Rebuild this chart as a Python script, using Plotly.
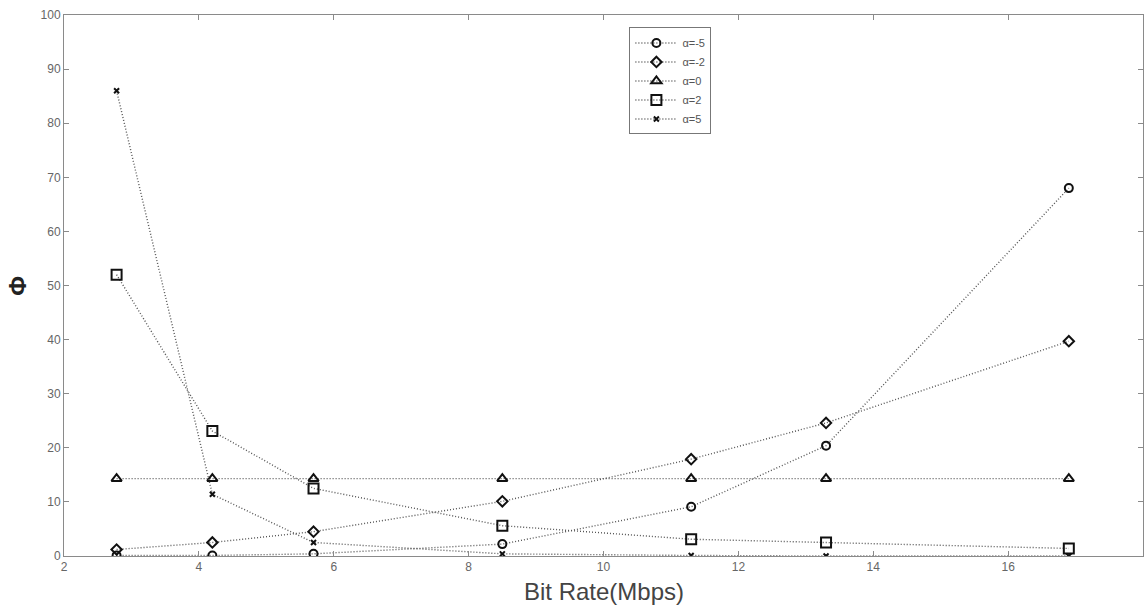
import plotly.graph_objects as go

bit_rate = [2.78, 4.2, 5.7, 8.5, 11.3, 13.3, 16.9]
series_names = ["α=-5", "α=-2", "α=0", "α=2", "α=5"]
phi_a_m5 = [0.1, 0.1, 0.4, 2.2, 9.1, 20.4, 68.0]
phi_a_m2 = [1.2, 2.5, 4.5, 10.1, 17.9, 24.6, 39.7]
phi_a_0 = [14.3, 14.3, 14.3, 14.3, 14.3, 14.3, 14.3]
phi_a_2 = [52.0, 23.1, 12.5, 5.6, 3.1, 2.5, 1.4]
phi_a_5 = [86.0, 11.4, 2.5, 0.4, 0.1, 0.0, 0.0]
x_ticks = [2, 4, 6, 8, 10, 12, 14, 16, 18]
y_ticks = [0, 10, 20, 30, 40, 50, 60, 70, 80, 90, 100]

series = [phi_a_m5, phi_a_m2, phi_a_0, phi_a_2, phi_a_5]
symbols = ["circle-open", "diamond-open", "triangle-up-open", "square-open", "x-thin-open"]
sizes = [8, 8, 9, 10, 5]

fig = go.Figure()
for name, ys, sym, sz in zip(series_names, series, symbols, sizes):
    fig.add_trace(go.Scatter(
        x=bit_rate, y=ys, name=name, mode="lines+markers",
        line=dict(color="#555555", width=1.4, dash="1px,2px"),
        marker=dict(symbol=sym, size=sz, color="#111111",
                    line=dict(color="#111111", width=2)),
    ))

axis_common = dict(
    showgrid=False, zeroline=False, showline=True, linecolor="#8a8a8a", linewidth=1,
    mirror="ticks", ticks="inside", ticklen=5, tickcolor="#8a8a8a",
    tickfont=dict(family="Liberation Sans, Arial", size=12, color="#666666"),
)

fig.update_layout(
    width=1148, height=607,
    margin=dict(l=64, r=5, t=15, b=51),
    paper_bgcolor="white", plot_bgcolor="white",
    xaxis=dict(range=[2, 18], tickvals=x_ticks, **axis_common),
    yaxis=dict(range=[0, 100], tickvals=y_ticks, **axis_common),
    showlegend=True,
    legend=dict(
        x=0.524, y=0.977, xanchor="left", yanchor="top",
        bgcolor="white", bordercolor="#777777", borderwidth=1,
        font=dict(family="Liberation Sans, Arial", size=11, color="#555555"),
        tracegroupgap=0, itemwidth=42,
    ),
)

fig.add_annotation(
    text="<b>Φ</b>", xref="paper", yref="paper", x=-0.043, y=0.5,
    showarrow=False, textangle=90,
    font=dict(family="Liberation Sans, Arial", size=24, color="#222222"),
    xanchor="center", yanchor="middle",
)
fig.add_annotation(
    text="Bit Rate(Mbps)", xref="paper", yref="paper", x=0.5, y=-0.066,
    showarrow=False, xanchor="center", yanchor="middle",
    font=dict(family="Liberation Sans, Arial", size=24, color="#444444"),
)

fig.write_html(
    "out.html",
    config={"displayModeBar": False},
    post_script="document.body.style.margin='0';document.body.style.overflow='hidden';",
)
